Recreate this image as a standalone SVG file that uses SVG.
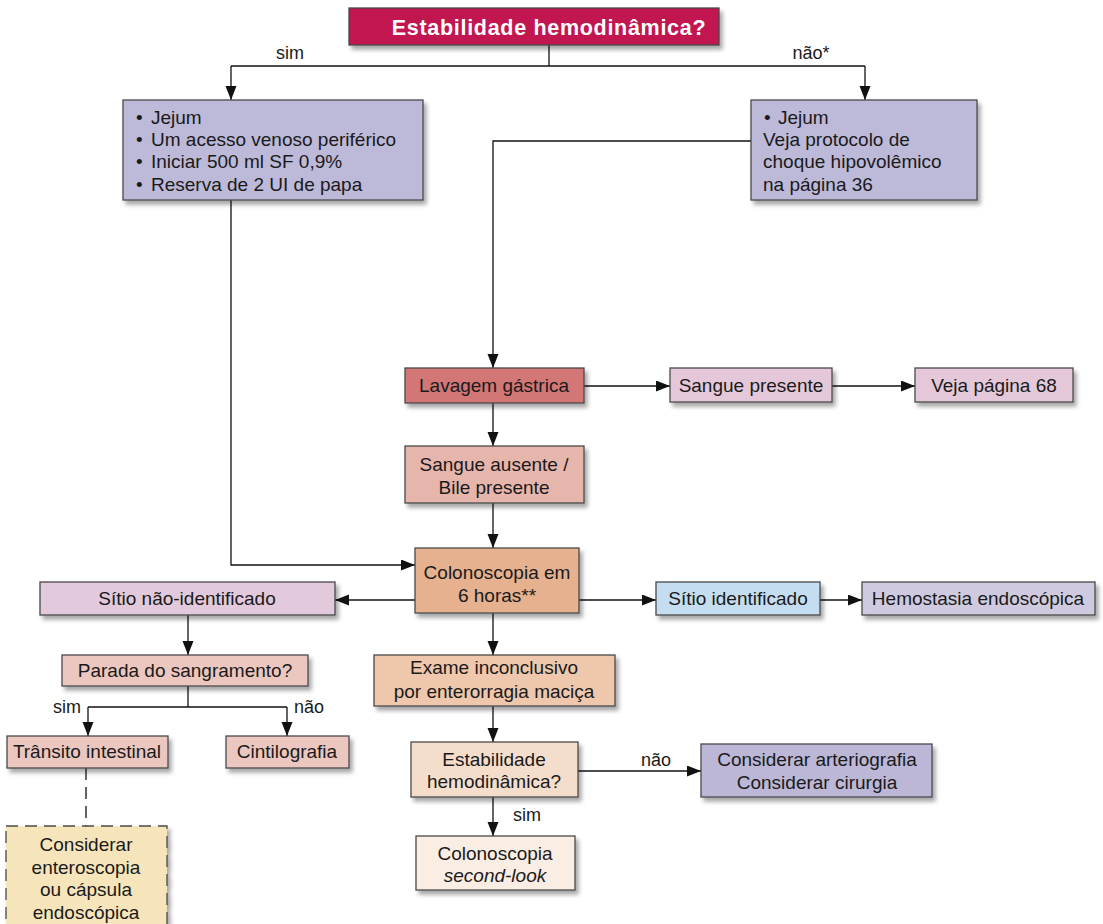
<svg xmlns="http://www.w3.org/2000/svg" width="1103" height="924" viewBox="0 0 1103 924">
  <style>
    .box { stroke: #4a4a4a; stroke-width: 1.3; filter: url(#shadow); }
    .t { font-family: "Liberation Sans", Arial, sans-serif; font-size: 19px; fill: #1a1a1a; }
    .c { text-anchor: middle; }
    .title { font-family: "Liberation Sans", Arial, sans-serif; font-size: 21.5px; font-weight: bold; fill: #ffffff; text-anchor: middle; letter-spacing: 0.7px; }
    .lbl { font-family: "Liberation Sans", Arial, sans-serif; font-size: 18px; fill: #1a1a1a; text-anchor: middle; }
    .ln { fill: none; stroke: #111; stroke-width: 1.3; }
    .arr { marker-end: url(#ah); }
    .dash { stroke-dasharray: 12 7; }
  </style>
  <defs>
    <filter id="shadow" x="-10%" y="-20%" width="125%" height="150%">
      <feDropShadow dx="3" dy="4" stdDeviation="2.2" flood-color="#000" flood-opacity="0.35"/>
    </filter>
    <marker id="ah" markerUnits="userSpaceOnUse" markerWidth="15" markerHeight="12" refX="14" refY="5.5" orient="auto">
      <path d="M0,0 L14,5.5 L0,11 Z" fill="#111"/>
    </marker>
  </defs>

  <rect width="1103" height="924" fill="#ffffff"/>

  <!-- connectors -->
  <g id="connectors">
    <path class="ln" d="M549,45 V66"/>
    <path class="ln" d="M231,66 H865"/>
    <path class="ln arr" d="M231,66 V100"/>
    <path class="ln arr" d="M865,66 V100"/>
    <path class="ln arr" d="M231,200 V565 H415"/>
    <path class="ln arr" d="M751,141 H493 V368"/>
    <path class="ln arr" d="M584,386 H670"/>
    <path class="ln arr" d="M832,386 H915"/>
    <path class="ln arr" d="M493,403 V446"/>
    <path class="ln arr" d="M493,503 V548"/>
    <path class="ln arr" d="M415,600 H335"/>
    <path class="ln arr" d="M579,600 H656"/>
    <path class="ln arr" d="M820,600 H862"/>
    <path class="ln arr" d="M493,613 V655"/>
    <path class="ln arr" d="M493,706 V742"/>
    <path class="ln arr" d="M578,771 H701"/>
    <path class="ln arr" d="M493,797 V836"/>
    <path class="ln arr" d="M188,615 V655"/>
    <path class="ln" d="M188,686 V707"/>
    <path class="ln" d="M88,707 H287"/>
    <path class="ln arr" d="M88,707 V736"/>
    <path class="ln arr" d="M287,707 V736"/>
    <path class="ln dash" d="M86,768 V826"/>
    <text class="lbl" x="290" y="59">sim</text>
    <text class="lbl" x="811" y="59">não*</text>
    <text class="lbl" x="67" y="713">sim</text>
    <text class="lbl" x="309" y="713">não</text>
    <text class="lbl" x="656" y="766">não</text>
    <text class="lbl" x="527" y="821">sim</text>
  </g>

  <g id="n-estabilidade">
    <rect class="box" x="349" y="8" width="370" height="37" fill="#c1124f"/>
    <text class="title" x="549" y="35">Estabilidade hemodinâmica?</text>
  </g>

  <g id="n-sim-medidas">
    <rect class="box" x="123" y="100" width="300" height="100" fill="#bdb9d9"/>
    <text class="t" x="136" y="124">•<tspan x="151">Jejum</tspan></text>
    <text class="t" x="136" y="146">•<tspan x="151">Um acesso venoso periférico</tspan></text>
    <text class="t" x="136" y="168">•<tspan x="151">Iniciar 500 ml SF 0,9%</tspan></text>
    <text class="t" x="136" y="191">•<tspan x="151">Reserva de 2 UI de papa</tspan></text>
  </g>

  <g id="n-nao-medidas">
    <rect class="box" x="751" y="100" width="226" height="100" fill="#bdb9d9"/>
    <text class="t" x="764" y="124">•<tspan x="778">Jejum</tspan></text>
    <text class="t" x="763" y="146">Veja protocolo de</text>
    <text class="t" x="763" y="168">choque hipovolêmico</text>
    <text class="t" x="763" y="191">na página 36</text>
  </g>

  <g id="n-lavagem">
    <rect class="box" x="405" y="368" width="179" height="35" fill="#d27676"/>
    <text class="t c" x="494" y="392">Lavagem gástrica</text>
  </g>

  <g id="n-sangue-presente">
    <rect class="box" x="670" y="368" width="162" height="34" fill="#e4c8da"/>
    <text class="t c" x="751" y="392">Sangue presente</text>
  </g>

  <g id="n-pagina-68">
    <rect class="box" x="915" y="368" width="158" height="34" fill="#e4c8da"/>
    <text class="t c" x="994" y="392">Veja página 68</text>
  </g>

  <g id="n-sangue-ausente">
    <rect class="box" x="405" y="446" width="179" height="57" fill="#e6b5ac"/>
    <text class="t c" x="494" y="471">Sangue ausente /</text>
    <text class="t c" x="494" y="494">Bile presente</text>
  </g>

  <g id="n-colonoscopia">
    <rect class="box" x="415" y="548" width="164" height="65" fill="#e6b18f"/>
    <text class="t c" x="497" y="579">Colonoscopia em</text>
    <text class="t c" x="497" y="602">6 horas**</text>
  </g>

  <g id="n-sitio-nao">
    <rect class="box" x="40" y="582" width="295" height="33" fill="#e3c9dc"/>
    <text class="t c" x="187" y="605">Sítio não-identificado</text>
  </g>

  <g id="n-sitio-id">
    <rect class="box" x="656" y="582" width="164" height="33" fill="#c5ddf0"/>
    <text class="t c" x="738" y="605">Sítio identificado</text>
  </g>

  <g id="n-hemostasia">
    <rect class="box" x="862" y="582" width="233" height="33" fill="#cfcadf"/>
    <text class="t c" x="978" y="605">Hemostasia endoscópica</text>
  </g>

  <g id="n-parada">
    <rect class="box" x="62" y="655" width="246" height="31" fill="#ebc7bf"/>
    <text class="t c" x="185" y="677">Parada do sangramento?</text>
  </g>

  <g id="n-transito">
    <rect class="box" x="7" y="736" width="161" height="32" fill="#ebc7bf"/>
    <text class="t c" x="87" y="758">Trânsito intestinal</text>
  </g>

  <g id="n-cintilografia">
    <rect class="box" x="226" y="736" width="123" height="32" fill="#ebc7bf"/>
    <text class="t c" x="287" y="758">Cintilografia</text>
  </g>

  <g id="n-enteroscopia">
    <rect class="box dash" x="6" y="826" width="161" height="104" fill="#f6e4ba"/>
    <text class="t c" x="86" y="851">Considerar</text>
    <text class="t c" x="86" y="874">enteroscopia</text>
    <text class="t c" x="86" y="896">ou cápsula</text>
    <text class="t c" x="86" y="919">endoscópica</text>
  </g>

  <g id="n-exame">
    <rect class="box" x="374" y="655" width="241" height="51" fill="#eec7ac"/>
    <text class="t c" x="494" y="674">Exame inconclusivo</text>
    <text class="t c" x="494" y="698">por enterorragia maciça</text>
  </g>

  <g id="n-estab-2">
    <rect class="box" x="411" y="742" width="167" height="55" fill="#f5ddcc"/>
    <text class="t c" x="494" y="766">Estabilidade</text>
    <text class="t c" x="494" y="788">hemodinâmica?</text>
  </g>

  <g id="n-considerar">
    <rect class="box" x="701" y="744" width="231" height="53" fill="#bcb7d7"/>
    <text class="t c" x="817" y="766">Considerar arteriografia</text>
    <text class="t c" x="817" y="789">Considerar cirurgia</text>
  </g>

  <g id="n-second-look">
    <rect class="box" x="416" y="836" width="159" height="54" fill="#f9ede4"/>
    <text class="t c" x="495" y="860">Colonoscopia</text>
    <text class="t c" x="495" y="882" font-style="italic">second-look</text>
  </g>
</svg>
